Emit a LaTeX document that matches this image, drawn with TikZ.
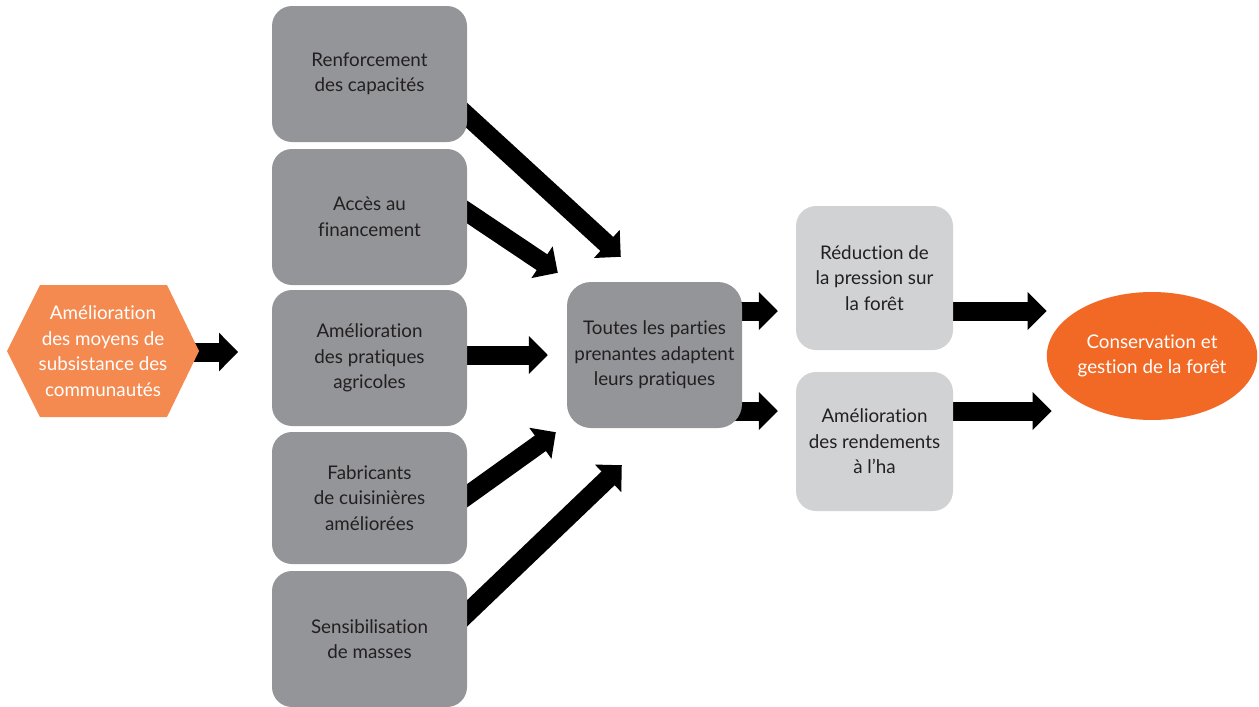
\documentclass[tikz,border=0pt]{standalone}
\usepackage{fontspec}
\setmainfont{Lato}[Ligatures={NoCommon}]
\usetikzlibrary{arrows.meta,calc,backgrounds,shapes.geometric}
\definecolor{hexorange}{HTML}{F58A51}
\definecolor{ellorange}{HTML}{F26925}
\definecolor{darkbox}{HTML}{949599}
\definecolor{lightbox}{HTML}{D1D2D4}
\definecolor{ink}{HTML}{231F20}
\tikzset{
  txt/.style={font=\fontsize{18.8}{25.5}\selectfont, align=center, text=ink},
  darkstep/.style={txt, fill=darkbox, rounded corners=20pt, minimum width=195pt, inner sep=0pt},
  lightstep/.style={txt, fill=lightbox, rounded corners=20pt, minimum width=157pt, inner sep=0pt},
  fat/.style={line width=19pt, -{Triangle[length=19pt,width=37pt]}},
}
\begin{document}
\begin{tikzpicture}[x=1pt,y=-1pt]
\useasboundingbox (0,0) rectangle (1259,707);

% left hexagon
\fill[hexorange] (7,351) -- (40,285) -- (167,285) -- (199,351) -- (167,417) -- (40,417) -- cycle;
\node[txt, text=white, minimum width=192pt] (h) at (103,351)
  {Amélioration\\des moyens de\\subsistance des\\communautés};

% column of actions
\node[darkstep, minimum height=136pt] (b1) at (369.5,74) {Renforcement\\des capacités};
\node[darkstep, minimum height=136pt] (b2) at (369.5,217) {Accès au\\financement};
\node[darkstep, minimum height=136pt] (b3) at (369.5,358) {Amélioration\\des pratiques\\agricoles};
\node[darkstep, minimum height=132pt] (b4) at (369.5,498) {Fabricants\\de cuisinières\\améliorées};
\node[darkstep, minimum height=136pt] (b5) at (369.5,639) {Sensibilisation\\de masses};

% central box
\node[darkstep, minimum width=175pt, minimum height=146pt, rounded corners=24pt] (c) at (654.5,355)
  {Toutes les parties\\prenantes adaptent\\leurs pratiques};

% outcomes
\node[lightstep, minimum height=144pt] (r1) at (874.5,278) {Réduction de\\la pression sur\\la forêt};
\node[lightstep, minimum height=139pt] (r2) at (874.5,441.5) {Amélioration\\des rendements\\à l’ha};

% goal
\node[txt, text=white, ellipse, fill=ellorange, minimum width=210pt, minimum height=128pt, inner sep=0pt] (e) at (1152,356)
  {Conservation et\\gestion de la forêt};

\begin{scope}[on background layer]
  \draw[fat] ($(h.east)+(-9,1)$) -- ($(h.east)+(39,1)$);
  \draw[fat] ($(b1.east)+(-27,17)$) -- ($(c.north west)+(54,-25)$);
  \draw[fat] ($(b2.east)+(-27,-23)$) -- ($(c.north west)+(-9,-9)$);
  \draw[fat] ($(b3.east)+(-17,-3)$) -- ($(c.west)+(-19,0)$);
  \draw[fat] ($(b4.east)+(-27,17)$) -- ($(c.south west)+(-11,4)$);
  \draw[fat] ($(b5.east)+(-27,0)$) -- ($(c.south west)+(55,37)$);
  \draw[fat] ($(c.east)+(-7,-44)$) -- ($(r1.west)+(-18,33)$);
  \draw[fat] ($(c.east)+(-7,56)$) -- ($(r2.west)+(-18,-30.5)$);
  \draw[fat] ($(r1.east)+(-8,33)$) -- ($(e.west)+(0,-45)$);
  \draw[fat] ($(r2.east)+(-8,-30.5)$) -- ($(e.west)+(5,55)$);
\end{scope}
\end{tikzpicture}
\end{document}
